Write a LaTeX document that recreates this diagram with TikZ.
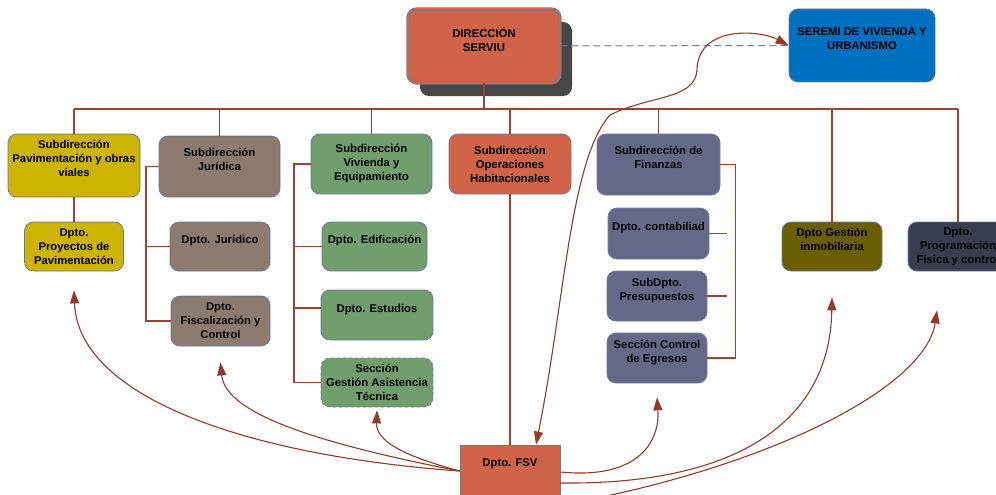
\documentclass[tikz,border=0pt]{standalone}
\usepackage{xcolor}
\usepackage{fontspec}
\setmainfont{Liberation Sans}
\usepackage{tikz}
\usetikzlibrary{arrows.meta,shadows}

\definecolor{coral}{RGB}{208,99,72}
\definecolor{seremiblue}{RGB}{0,112,192}
\definecolor{pavyellow}{RGB}{204,180,0}
\definecolor{jurbrown}{RGB}{140,123,110}
\definecolor{vivgreen}{RGB}{112,158,108}
\definecolor{finslate}{RGB}{99,106,135}
\definecolor{gesolive}{RGB}{106,94,0}
\definecolor{progdark}{RGB}{56,62,80}
\definecolor{shadowgray}{RGB}{71,71,71}
\definecolor{bordcol}{RGB}{110,122,155}
\definecolor{linkcol}{RGB}{164,64,44}
\definecolor{arrcol}{RGB}{148,58,40}

\begin{document}
\begin{tikzpicture}[x=1pt, y=-1pt,
    box/.style={draw=bordcol, line width=0.8pt, rounded corners=9pt, align=center, inner sep=1pt,
        font=\fontsize{11.3}{14}\selectfont\bfseries},
    link/.style={draw=linkcol, line width=1.8pt},
    feed/.style={draw=arrcol, line width=1.1pt, -{Triangle[length=13pt,width=9pt]}}]
    \useasboundingbox (0,0) rectangle (996,495);

    \node[box, fill=coral, double=coral, double distance=1.6pt, line width=0.9pt,
        drop shadow={fill=shadowgray, opacity=1, shadow xshift=12pt, shadow yshift=-13pt},
        minimum width=152pt, minimum height=74pt] (dir) at (484,46) {DIRECCIÓN\\SERVIU\\~};
    \node[box, fill=seremiblue, minimum width=146pt, minimum height=73pt] (seremi) at (862,45.5) {SEREMI DE VIVIENDA Y\\URBANISMO\\~};
    \draw[bordcol, line width=1pt, dash pattern=on 7pt off 4pt] (dir.east) -- (seremi.west);

    \node[box, fill=pavyellow, minimum width=132pt, minimum height=63pt] (pav) at (74,165.5) {Subdirección\\Pavimentación y obras\\viales\\~};
    \node[box, fill=jurbrown, minimum width=121pt, minimum height=61pt] (jur) at (219.5,166.5) {Subdirección\\Jurídica\\~};
    \node[box, fill=vivgreen, minimum width=121pt, minimum height=60pt] (viv) at (371.5,164) {Subdirección\\Vivienda y\\Equipamiento};
    \node[box, fill=coral, minimum width=122pt, minimum height=60pt] (oper) at (510,164) {Subdirección\\Operaciones\\Habitacionales};
    \node[box, fill=finslate, minimum width=123pt, minimum height=61pt] (fin) at (658.5,164.5) {Subdirección de\\Finanzas\\~};

    \node[box, fill=pavyellow, minimum width=99pt, minimum height=49pt] (proy) at (74,246.5) {Dpto.\\Proyectos de\\Pavimentación};
    \node[box, fill=jurbrown, minimum width=100pt, minimum height=49pt] (djur) at (220,246.5) {Dpto. Jurídico\\~};
    \node[box, fill=jurbrown, minimum width=99pt, minimum height=50pt] (fisc) at (220.5,321) {Dpto.\\Fiscalización y\\Control};
    \node[box, fill=vivgreen, minimum width=105pt, minimum height=49pt] (edif) at (374.5,246.5) {Dpto. Edificación\\~};
    \node[box, fill=vivgreen, minimum width=112pt, minimum height=50pt] (est) at (377,315) {Dpto. Estudios\\~};
    \node[box, fill=vivgreen, dashed, minimum width=112pt, minimum height=49pt] (gat) at (377,382.5) {Sección\\Gestión Asistencia\\Técnica};
    \node[box, fill=finslate, minimum width=101pt, minimum height=51pt] (cont) at (658.5,233.5) {Dpto. contabiliad\\~};
    \node[box, fill=finslate, minimum width=100pt, minimum height=50pt] (pres) at (657,296) {SubDpto.\\Presupuestos\\~};
    \node[box, fill=finslate, minimum width=100pt, minimum height=50pt] (egr) at (657,358) {Sección Control\\de Egresos\\~};
    \node[box, fill=gesolive, minimum width=100pt, minimum height=49pt] (ges) at (832,246.5) {Dpto Gestión\\inmobiliaria\\~};
    \node[box, fill=progdark, minimum width=100pt, minimum height=49pt] (prog) at (958,246.5) {Dpto.\\Programación\\Física y control};
    \node[box, fill=coral, rounded corners=0pt, minimum width=100pt, minimum height=64pt] (fsv) at (510,477) {Dpto. FSV\\~\\~};

    \coordinate (busL) at (74,109);
    \coordinate (busR) at (958,109);
    \draw[link] (busL) -- (busR);
    \draw[link] (dir.south) -- (dir.south |- busL);
    \foreach \n in {pav,jur,viv,oper,fin,ges,prog}
        \draw[link] (\n.north |- busL) -- (\n.north);
    \draw[link] (pav) -- (proy);
    \draw[link] (jur.west) -- ++(-13,0) coordinate (jbar) |- (fisc.west);
    \draw[link] (djur.west) -- (djur.west -| jbar);
    \draw[link] (viv.west) -- ++(-17,0) coordinate (vbar) |- (gat.west);
    \draw[link] (edif.west) -- (edif.west -| vbar);
    \draw[link] ([yshift=7pt]est.west) -- ([yshift=7pt]est.west -| vbar);
    \draw[link] (fin.east) -- ++(15,0) coordinate (fbar) |- (egr.east);
    \draw[link] (cont.east) -- ++(18,0);
    \draw[link] (pres.east) -- ++(20,0);
    \draw[link] (oper.south) -- (oper.south |- fsv.north);

    \draw[feed] ([yshift=6pt]fsv.west) .. controls (240,455) and (78,395) .. ([yshift=-19pt]proy.south);
    \draw[feed] ([yshift=6pt]fsv.west) .. controls (300,440) and (225,410) .. ([yshift=-16pt]fisc.south);
    \draw[feed] ([yshift=6pt]fsv.west) .. controls (400,455) and (376,440) .. ([yshift=-3pt]gat.south);
    \draw[feed] ([yshift=5pt]fsv.east) .. controls (640,480) and (660,440) .. ([yshift=-14pt]egr.south);
    \draw[feed] ([yshift=-6pt]fsv.east) .. controls (740,485) and (830,420) .. ([yshift=-26pt]ges.south);
    \draw[feed] ([yshift=-28pt]fsv.east) .. controls (760,470) and (925,390) .. ([xshift=-21pt,yshift=-39pt]prog.south);
    \draw[feed, {Triangle[length=13pt,width=9pt]}-{Triangle[length=13pt,width=9pt]}] ([xshift=26pt]fsv.north)
        .. controls (565,300) and (570,160) .. (610,115)
        .. controls (650,95) and (695,100) .. (697,70)
        .. controls (698,25) and (760,30) .. (seremi.west);
\end{tikzpicture}
\end{document}
